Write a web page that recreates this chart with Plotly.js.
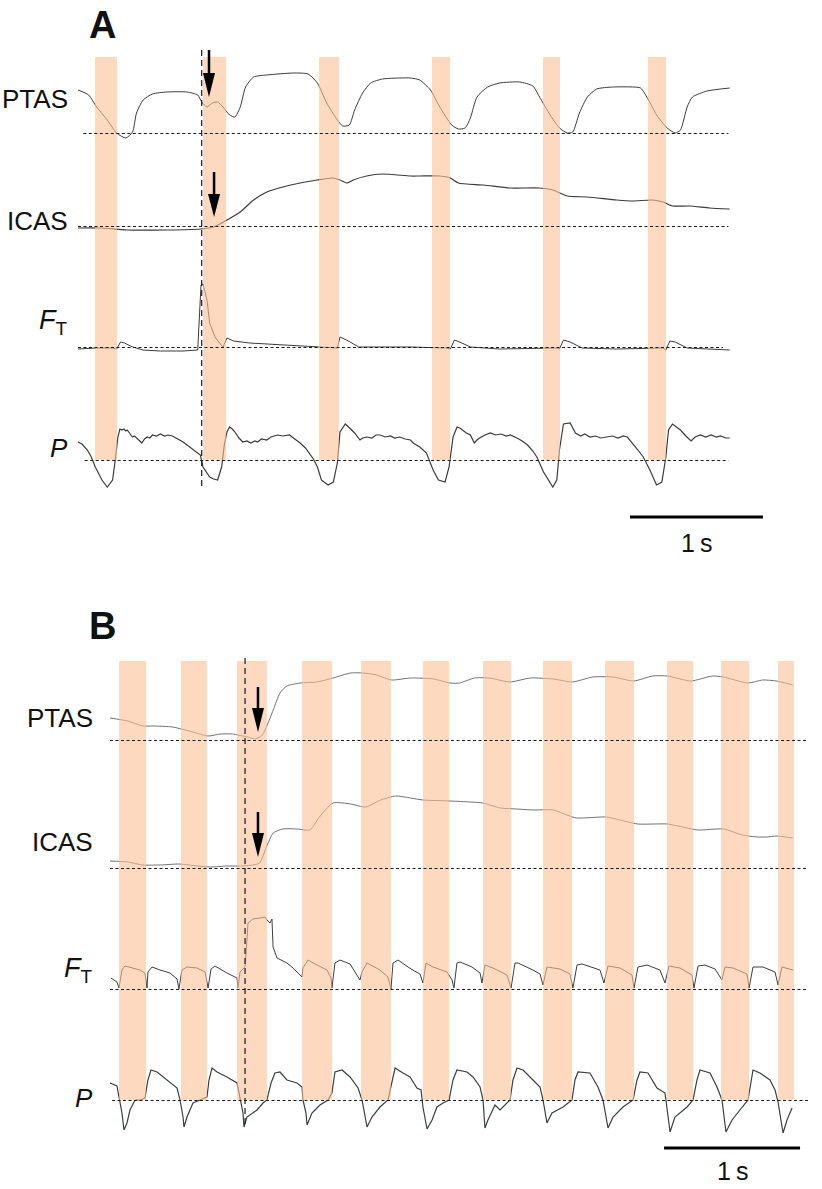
<!DOCTYPE html>
<html>
<head>
<meta charset="utf-8">
<script src="https://cdn.plot.ly/plotly-3.0.1.min.js"></script>
<style>
  html, body { margin: 0; padding: 0; background: #fff; }
  #chart { width: 822px; height: 1189px; }
</style>
</head>
<body>
<div id="chart"></div>
<script>
// Respiratory traces, two recordings (A slow, B fast breathing)
// each point: [time in s, amplitude in a.u. above the dashed baseline]

const ptasA = [[0,43],[0.08,38],[0.14,26],[0.22,13],[0.29,0],[0.36,-5],[0.41,1],[0.44,20],[0.49,33],[0.56,39],
  [0.67,41],[0.82,41],[0.90,38],[0.93,31],[0.97,26],[1.01,30],[1.05,31],[1.09,26],[1.14,18],[1.18,16],
  [1.22,26],[1.26,46],[1.32,56],[1.42,58],[1.62,60],[1.73,59],[1.80,50],[1.87,30],[1.95,13],[1.99,7],
  [2.04,8],[2.08,23],[2.14,40],[2.20,50],[2.29,54],[2.42,55],[2.50,55],[2.57,53],[2.65,43],[2.72,26],
  [2.81,8],[2.86,4],[2.91,5],[2.95,15],[3.00,36],[3.08,46],[3.17,50],[3.32,51],[3.42,47],[3.47,36],
  [3.55,18],[3.62,5],[3.68,0],[3.72,1],[3.77,20],[3.83,36],[3.90,44],[4.02,46],[4.17,46],[4.23,45],
  [4.29,33],[4.35,18],[4.43,5],[4.49,0],[4.53,3],[4.58,26],[4.62,36],[4.73,42],[4.90,45]];

const icasA = [[0,-2],[0.17,-2],[0.37,-4],[0.67,-4],[0.92,-3],[1.02,-1],[1.12,6],[1.22,14],[1.32,26],[1.42,34],
  [1.54,39],[1.67,43],[1.80,46],[1.92,48],[1.97,46],[2.02,43],[2.07,46],[2.17,50],[2.29,52],[2.50,50],
  [2.57,50],[2.72,50],[2.80,48],[2.86,43],[3.05,41],[3.25,38],[3.47,38],[3.57,36],[3.68,30],[3.83,29],
  [4.05,26],[4.17,25],[4.32,26],[4.40,24],[4.47,20],[4.60,20],[4.75,18],[4.90,17]];

const ftA = [[0,-2],[0.14,-1],[0.26,-1],[0.29,-2],[0.32,5],[0.35,4],[0.41,0],[0.49,-3],[0.62,-4],[0.79,-4],
  [0.90,-3],[0.915,30],[0.925,62],[0.94,63],[0.97,47],[0.99,24],[1.03,10],[1.07,3],[1.09,0],[1.12,9],
  [1.17,6],[1.29,4],[1.54,2],[1.76,0],[1.95,-1],[1.97,10],[2.02,7],[2.11,0],[2.50,0],[2.77,-1],
  [2.80,-2],[2.83,7],[2.87,5],[2.95,0],[3.17,-2],[3.60,-1],[3.62,-2],[3.65,7],[3.70,5],[3.79,-1],
  [4.05,-2],[4.40,-1],[4.42,-3],[4.45,6],[4.49,5],[4.58,-1],[4.90,-3]];

const pA = [[0,18],[0.03,16],[0.07,10],[0.10,3],[0.13,-7],[0.18,-20],[0.22,-27],[0.24,-24],[0.26,-20],[0.28,0],
  [0.30,23],[0.315,31],[0.33,30],[0.345,31],[0.36,29],[0.37,30],[0.39,26],[0.41,23],[0.425,24],[0.44,22],
  [0.46,20],[0.48,17],[0.50,21],[0.52,23],[0.54,22],[0.56,25],[0.59,24],[0.62,26],[0.65,24],[0.68,25],
  [0.71,24],[0.74,22],[0.77,20],[0.79,18],[0.83,14],[0.86,11],[0.89,8],[0.92,5],[0.94,-7],[0.99,-17],
  [1.02,-19],[1.05,-20],[1.08,-7],[1.10,15],[1.12,28],[1.14,33],[1.16,31],[1.18,28],[1.21,22],[1.24,18],
  [1.27,19],[1.30,17],[1.33,19],[1.35,18],[1.38,21],[1.42,20],[1.45,23],[1.50,25],[1.54,24],[1.59,25],
  [1.62,22],[1.67,17],[1.71,12],[1.74,7],[1.77,1],[1.80,-7],[1.83,-20],[1.88,-25],[1.92,-22],[1.95,-3],
  [1.97,28],[2.01,36],[2.03,33],[2.05,31],[2.08,27],[2.10,24],[2.12,20],[2.14,22],[2.17,23],[2.21,22],
  [2.24,25],[2.27,25],[2.31,23],[2.35,24],[2.38,22],[2.42,23],[2.46,21],[2.50,20],[2.52,17],[2.57,13],
  [2.62,7],[2.67,-10],[2.71,-20],[2.76,-22],[2.79,-7],[2.82,23],[2.85,33],[2.87,32],[2.89,30],[2.92,27],
  [2.95,25],[2.98,17],[3.00,20],[3.02,22],[3.06,25],[3.10,27],[3.14,25],[3.18,26],[3.22,24],[3.25,25],
  [3.30,22],[3.34,19],[3.38,15],[3.42,9],[3.45,3],[3.50,-12],[3.57,-27],[3.60,-20],[3.62,10],[3.65,36],
  [3.70,37],[3.72,32],[3.74,27],[3.78,24],[3.81,26],[3.85,23],[3.89,24],[3.93,22],[3.98,23],[4.02,24],
  [4.06,22],[4.10,24],[4.13,23],[4.17,17],[4.21,10],[4.25,3],[4.30,-10],[4.35,-25],[4.39,-22],[4.42,3],
  [4.44,30],[4.47,36],[4.50,33],[4.53,30],[4.57,24],[4.61,19],[4.64,23],[4.68,25],[4.72,23],[4.76,25],
  [4.80,23],[4.83,24],[4.87,22],[4.90,22]];

const ptasB = [[0,22],[0.13,19],[0.24,14],[0.32,14],[0.46,13],[0.61,8],[0.72,4],[0.81,6],[0.90,6],[1.01,3],
  [1.07,1],[1.12,5],[1.15,13],[1.20,30],[1.25,47],[1.30,54],[1.40,57],[1.52,58],[1.64,62],[1.77,67],
  [1.86,67],[1.96,65],[2.07,60],[2.21,62],[2.38,61],[2.50,57],[2.57,57],[2.68,62],[2.79,62],[2.94,58],
  [3.09,62],[3.26,61],[3.40,58],[3.55,63],[3.70,63],[3.85,59],[3.99,64],[4.10,64],[4.27,59],[4.43,64],
  [4.51,63],[4.69,57],[4.80,60],[4.90,59],[5.02,55]];

const icasB = [[0,7],[0.13,6],[0.24,3],[0.37,3],[0.51,4],[0.64,2],[0.74,1],[0.86,2],[0.96,2],[1.05,3],
  [1.10,5],[1.15,21],[1.20,35],[1.27,39],[1.38,39],[1.47,38],[1.54,51],[1.64,65],[1.77,64],[1.88,61],
  [1.99,68],[2.10,72],[2.21,70],[2.30,68],[2.50,67],[2.65,66],[2.74,65],[2.87,60],[2.99,59],[3.11,58],
  [3.26,58],[3.36,53],[3.43,50],[3.65,51],[3.75,48],[3.88,44],[4.10,44],[4.21,41],[4.32,38],[4.51,39],
  [4.65,33],[4.76,31],[4.83,31],[4.90,32],[5.02,30]];

const ftB = [[0.007,11],[0.051,7],[0.066,1],[0.088,19],[0.110,23],[0.162,21],[0.221,19],[0.257,16],[0.272,1],[0.279,17],
  [0.309,22],[0.368,19],[0.441,16],[0.493,10],[0.507,0],[0.529,19],[0.566,22],[0.640,21],[0.699,17],[0.721,1],
  [0.743,20],[0.772,23],[0.860,16],[0.934,11],[0.941,1],[0.956,17],[0.993,22],[1.015,66],[1.051,70],[1.103,71],
  [1.140,72],[1.154,69],[1.176,66],[1.191,70],[1.199,42],[1.228,31],[1.301,26],[1.346,21],[1.412,12],[1.419,21],
  [1.456,29],[1.522,24],[1.596,19],[1.625,11],[1.632,1],[1.654,26],[1.691,29],[1.765,25],[1.838,9],[1.853,17],
  [1.890,26],[1.985,19],[2.044,12],[2.066,0],[2.081,26],[2.118,29],[2.213,20],[2.279,15],[2.301,6],[2.324,26],
  [2.375,22],[2.478,17],[2.515,9],[2.529,1],[2.551,26],[2.574,27],[2.662,22],[2.721,16],[2.735,6],[2.757,24],
  [2.816,21],[2.919,14],[2.949,1],[2.978,26],[3.000,26],[3.110,19],[3.162,15],[3.184,4],[3.213,22],[3.309,20],
  [3.382,15],[3.404,1],[3.434,24],[3.471,25],[3.603,19],[3.632,6],[3.662,23],[3.750,21],[3.838,14],[3.853,1],
  [3.882,22],[3.949,24],[4.044,19],[4.081,6],[4.110,23],[4.191,21],[4.279,14],[4.294,1],[4.324,23],[4.375,24],
  [4.449,20],[4.500,9],[4.522,22],[4.581,21],[4.684,15],[4.699,1],[4.728,22],[4.801,22],[4.890,17],[4.912,4],
  [4.941,22],[5.022,19]];

const pB = [[0,17],[0.051,14],[0.066,3],[0.088,-13],[0.103,-30],[0.125,-23],[0.147,-10],[0.184,0],[0.221,0],[0.257,2],
  [0.279,20],[0.301,30],[0.346,28],[0.390,23],[0.441,18],[0.493,12],[0.515,0],[0.537,-17],[0.544,-27],[0.566,-17],
  [0.610,-3],[0.662,0],[0.713,3],[0.728,20],[0.750,32],[0.787,28],[0.860,23],[0.934,17],[0.956,3],[0.978,-13],
  [0.985,-27],[1.007,-17],[1.081,-10],[1.125,-3],[1.154,0],[1.184,17],[1.213,27],[1.250,28],[1.301,20],[1.375,17],
  [1.412,13],[1.419,0],[1.441,-13],[1.449,-25],[1.485,-13],[1.544,-5],[1.603,0],[1.632,7],[1.654,28],[1.706,30],
  [1.765,23],[1.824,12],[1.853,0],[1.875,-17],[1.890,-27],[1.926,-17],[1.985,-7],[2.044,0],[2.074,20],[2.096,32],
  [2.154,27],[2.206,23],[2.257,12],[2.287,10],[2.301,-7],[2.331,-29],[2.368,-20],[2.404,-7],[2.449,-3],[2.493,0],
  [2.522,20],[2.551,30],[2.625,28],[2.669,23],[2.721,13],[2.743,0],[2.757,-28],[2.779,-20],[2.831,-5],[2.868,-10],
  [2.941,0],[2.963,20],[2.993,32],[3.037,30],[3.110,20],[3.162,13],[3.184,0],[3.213,-23],[3.250,-13],[3.331,-7],
  [3.397,0],[3.419,20],[3.441,28],[3.529,27],[3.588,13],[3.625,0],[3.662,-28],[3.699,-17],[3.772,-7],[3.846,0],
  [3.875,20],[3.897,28],[3.956,27],[4.022,12],[4.081,7],[4.096,-10],[4.118,-32],[4.154,-17],[4.243,-7],[4.287,0],
  [4.316,20],[4.338,30],[4.412,27],[4.463,13],[4.500,0],[4.529,-32],[4.574,-20],[4.632,-10],[4.691,0],[4.728,30],
  [4.779,27],[4.853,20],[4.890,10],[4.912,-2],[4.949,-33],[4.978,-20],[5.015,-8]];

// inspiration periods (s)
const bandsA = [[0.128,0.293],[0.940,1.113],[1.812,1.962],[2.662,2.797],[3.496,3.624],[4.286,4.421]];
const bandsB = [[0.066,0.265],[0.522,0.713],[0.934,1.154],[1.412,1.632],[1.846,2.066],[2.301,2.493],
  [2.743,2.949],[3.184,3.397],[3.640,3.853],[4.096,4.287],[4.493,4.699],[4.912,5.029]];

const W = 822, H = 1189;
const FONT = 'Liberation Sans, Arial, sans-serif';

// page layout of the two panels (pixel rows for baselines)
const panels = [
  {
    axis: 'x', x0: 78, pps: 133, letter: 'A', letterY: 25, labelX: 70,
    series: [ptasA, icasA, ftA, pA], base: [133, 226, 347, 460], labelY: [99, 221, 322, 448],
    colors: ['#3b3b3b', '#3b3b3b', '#3b3b3b', '#3b3b3b'], widths: [1, 1.2, 1, 1.2],
    dash: [[0.04, 4.89], [0, 4.89], [0, 4.85], [0.05, 4.89]],
    bands: bandsA, bandY: [57, 460], vline: {t: 0.93, y: [50, 490]},
    arrows: [{t: 0.985, y: [50, 73, 97]}, {t: 1.023, y: [172, 194, 217]}],
    bar: {t: 4.15, y: 517, ty: 543}
  },
  {
    axis: 'x2', x0: 110, pps: 136, letter: 'B', letterY: 626, labelX: 95,
    series: [ptasB, icasB, ftB, pB], base: [740, 868, 989, 1100], labelY: [718, 842, 970, 1098],
    colors: ['#6e7173', '#6e7173', '#3b3e40', '#3b3e40'], widths: [1, 1, 1, 1.2],
    dash: [[0, 5.13], [0, 5.13], [0, 5.13], [0.015, 5.14]],
    bands: bandsB, bandY: [661, 1100], vline: {t: 0.993, y: [658, 1127]},
    arrows: [{t: 1.088, y: [687, 708, 732]}, {t: 1.088, y: [812, 833, 857]}],
    bar: {t: 4.074, y: 1148, ty: 1171}
  }
];
const labels = ['PTAS', 'ICAS', '<i>F</i><sub>T</sub>', '<i>P</i>'];
const labelSize = [26, 26, 27, 26];

let data = [];
let shapes = [];
let annotations = [];

panels.forEach(p => {
  p.series.forEach((s, i) => {
    data.push({
      x: s.map(d => d[0]),
      y: s.map(d => p.base[i] - d[1]),
      xaxis: p.axis, yaxis: 'y',
      mode: 'lines',
      line: {color: p.colors[i], width: p.widths[i], shape: i < 2 ? 'spline' : 'linear', smoothing: 0.6},
      hoverinfo: 'skip'
    });
    annotations.push({
      xref: 'paper', yref: 'y', x: p.labelX / W, y: p.labelY[i],
      xanchor: 'right', yanchor: 'middle', showarrow: false,
      text: labels[i], font: {family: FONT, size: labelSize[i], color: '#111'}
    });
  });

  // shaded bands sit over the traces, everything else on top of them
  p.bands.forEach(b => {
    shapes.push({
      type: 'rect', xref: p.axis, yref: 'y',
      x0: b[0], x1: b[1], y0: p.bandY[0], y1: p.bandY[1],
      fillcolor: 'rgb(252,192,150)', opacity: 0.6, line: {width: 0}, layer: 'above'
    });
  });

  // half-pixel nudge keeps the 1px dashed lines crisp
  p.base.forEach((y, i) => {
    shapes.push({
      type: 'line', xref: p.axis, yref: 'y',
      x0: p.dash[i][0], x1: p.dash[i][1], y0: y + 0.5, y1: y + 0.5,
      line: {color: '#1a1a1a', width: 1, dash: '3px,2.5px'}
    });
  });

  shapes.push({
    type: 'line', xref: p.axis, yref: 'y',
    x0: p.vline.t, x1: p.vline.t, y0: p.vline.y[0], y1: p.vline.y[1],
    xsizemode: 'scaled',
    line: {color: '#1a1a1a', width: 1.2, dash: '6px,4px'}
  });

  p.arrows.forEach(a => {
    shapes.push({
      type: 'line', xref: p.axis, yref: 'y',
      x0: a.t, x1: a.t, y0: a.y[0], y1: a.y[1] + 2,
      line: {color: '#000', width: 2.5}
    });
    shapes.push({
      type: 'path', xref: p.axis, yref: 'y',
      xsizemode: 'pixel', xanchor: a.t,
      path: `M-6,${a.y[1]} L6,${a.y[1]} L0,${a.y[2]} Z`,
      fillcolor: '#000', line: {width: 0}
    });
  });

  shapes.push({
    type: 'line', xref: p.axis, yref: 'y',
    x0: p.bar.t, x1: p.bar.t + 1, y0: p.bar.y, y1: p.bar.y,
    line: {color: '#000', width: 3}
  });
  annotations.push({
    xref: p.axis, yref: 'y', x: p.bar.t + 0.5, y: p.bar.ty,
    xanchor: 'center', yanchor: 'middle', showarrow: false,
    text: '1\u2009s', font: {family: FONT, size: 25, color: '#111'}
  });
  annotations.push({
    xref: 'paper', yref: 'y', x: 87 / W, y: p.letterY,
    xanchor: 'left', yanchor: 'middle', showarrow: false,
    text: '<b>' + p.letter + '</b>', font: {family: FONT, size: 38, color: '#111'}
  });
});

const hidden = {visible: false, showgrid: false, zeroline: false, fixedrange: true};

const layout = {
  width: W, height: H,
  margin: {l: 0, r: 0, t: 0, b: 0},
  paper_bgcolor: '#fff', plot_bgcolor: '#fff',
  showlegend: false, hovermode: false,
  xaxis: Object.assign({range: [-panels[0].x0 / panels[0].pps, (W - panels[0].x0) / panels[0].pps], domain: [0, 1], anchor: 'y'}, hidden),
  xaxis2: Object.assign({range: [-panels[1].x0 / panels[1].pps, (W - panels[1].x0) / panels[1].pps], domain: [0, 1], anchor: 'y', overlaying: 'x'}, hidden),
  yaxis: Object.assign({range: [H, 0], domain: [0, 1]}, hidden),
  shapes: shapes,
  annotations: annotations
};

Plotly.newPlot('chart', data, layout, {staticPlot: true, displayModeBar: false});
</script>
</body>
</html>
